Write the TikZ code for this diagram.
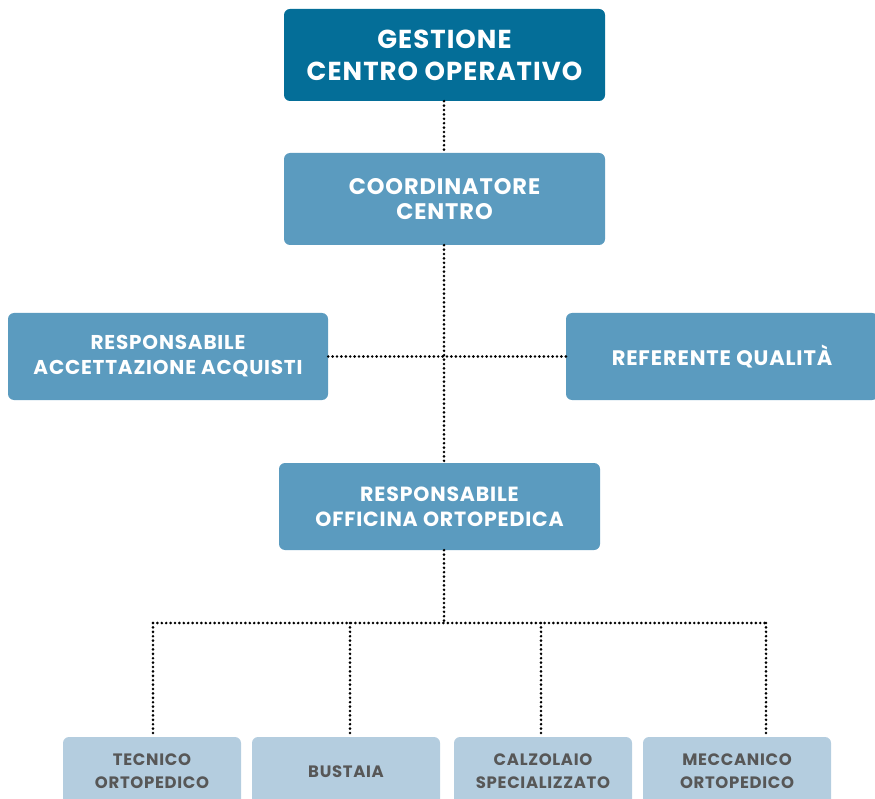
\documentclass[tikz,border=0pt]{standalone}
\usepackage{fontspec}
\setmainfont{Poppins}[LetterSpace=4]
\definecolor{cdark}{HTML}{046E98}
\definecolor{cmid}{HTML}{5B9BBF}
\definecolor{clight}{HTML}{B4CDDF}
\definecolor{ctext}{HTML}{575757}
\begin{document}
\begin{tikzpicture}[x=1pt,y=-1pt,
  box/.style={rounded corners=6pt, align=center, inner sep=0pt, font=\bfseries},
  topbox/.style={box, fill=cdark, text=white, minimum width=321pt, minimum height=92pt},
  midbox/.style={box, fill=cmid, text=white, minimum height=87pt},
  lowbox/.style={box, fill=clight, text=ctext, minimum height=69pt},
  link/.style={line width=2.9pt, dash pattern=on 0pt off 4.4pt, line cap=round, black}]
\useasboundingbox (0,0) rectangle (875,799);
\clip (0,0) rectangle (875,799);
\node[topbox, font=\bfseries\fontsize{26}{32}\selectfont] (top) at (444.5,55) {GESTIONE\\CENTRO OPERATIVO};
\node[midbox, minimum width=321pt, minimum height=92pt, font=\bfseries\fontsize{22.5}{25}\selectfont] (coord) at (444.5,199) {COORDINATORE\\CENTRO};
\node[midbox, minimum width=320pt, font=\bfseries\fontsize{20}{25}\selectfont] (left) at (168,356.5) {RESPONSABILE\\ACCETTAZIONE ACQUISTI};
\node[midbox, minimum width=312pt, font=\bfseries\fontsize{21}{25}\selectfont] (right) at (722,356.5) {REFERENTE QUALITÀ};
\node[midbox, minimum width=321pt, font=\bfseries\fontsize{20.5}{25}\selectfont] (off) at (439.5,506.5) {RESPONSABILE\\OFFICINA ORTOPEDICA};
\node[lowbox, minimum width=178pt, font=\bfseries\fontsize{16.5}{23}\selectfont] (b1) at (152,771.5) {TECNICO\\ORTOPEDICO};
\node[lowbox, minimum width=188pt, font=\bfseries\fontsize{16.5}{23}\selectfont] (b2) at (346,771.5) {BUSTAIA};
\node[lowbox, minimum width=178pt, font=\bfseries\fontsize{16.5}{23}\selectfont] (b3) at (543,771.5) {CALZOLAIO\\SPECIALIZZATO};
\node[lowbox, minimum width=188pt, font=\bfseries\fontsize{16.5}{23}\selectfont] (b4) at (737,771.5) {MECCANICO\\ORTOPEDICO};
\coordinate (hub) at (444,623);
\coordinate (c1) at (153,623);
\coordinate (c2) at (350,623);
\coordinate (c3) at (541,623);
\coordinate (c4) at (766,623);
\draw[link] (top.south -| hub) -- (coord.north -| hub);
\draw[link] (coord.south -| hub) -- (off.north -| hub);
\draw[link] (left.east) -- (right.west);
\draw[link] (off.south -| hub) -- (hub);
\draw[link] (c1) -- (c4);
\draw[link] (c1) -- (c1 |- b1.north);
\draw[link] (c2) -- (c2 |- b2.north);
\draw[link] (c3) -- (c3 |- b3.north);
\draw[link] (c4) -- (c4 |- b4.north);
\end{tikzpicture}
\end{document}
